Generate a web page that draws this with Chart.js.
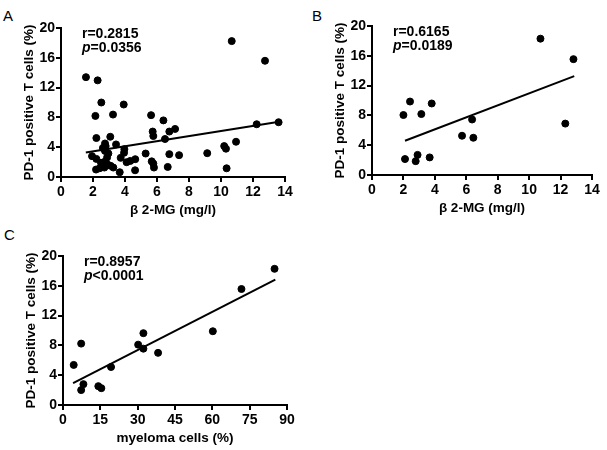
<!DOCTYPE html>
<html>
<head>
<meta charset="utf-8">
<script src="https://cdn.jsdelivr.net/npm/chart.js@4.4.0/dist/chart.umd.min.js"></script>
<style>
  body { margin: 0; background: #fff; }
  #wrap { position: relative; width: 607px; height: 450px; font-family: 'Liberation Sans', Arial, sans-serif; }
  canvas { position: absolute; }
  .letter { position: absolute; font-size: 15px; color: #000; line-height: 1; }
</style>
</head>
<body>
<div id="wrap">
  <div class="letter" style="left:3px; top:8px;">A</div>
  <div class="letter" style="left:312px; top:8px;">B</div>
  <div class="letter" style="left:4px; top:227px;">C</div>
  <canvas id="chartA" width="300" height="225" style="left:0; top:0;"></canvas>
  <canvas id="chartB" width="296" height="225" style="left:311px; top:-2px;"></canvas>
  <canvas id="chartC" width="300" height="225" style="left:2px; top:228px;"></canvas>
</div>
<script>
// Panel A: all patients, beta2-MG vs PD-1+ T cells
const b2mgA = [1.56, 2.29, 2.52, 3.92, 2.15, 3.25, 2.21, 3.08, 2.75, 2.79, 3.44, 3.96, 3.94,
               1.94, 2.21, 2.19, 2.42, 2.60, 2.71, 2.88, 2.96, 2.75, 2.71, 2.89, 3.27, 3.67,
               3.73, 4.10, 4.33, 4.64, 4.63, 2.50, 2.62, 3.10,
               5.63, 6.40, 5.73, 5.77, 6.77, 7.13, 6.50, 5.29, 5.67, 5.77, 5.81, 6.77, 7.38,
               6.67, 9.14, 10.20, 10.31, 10.94, 10.35, 12.23, 13.60, 10.67, 12.75];
const pd1A = [13.4, 12.97, 10.0, 9.73, 8.2, 8.38, 5.23, 5.4, 4.5, 4.15, 4.37, 3.74, 3.25,
              2.8, 2.43, 1.0, 1.18, 1.54, 2.03, 2.62, 3.16, 3.5, 1.27, 1.72, 1.27, 0.64,
              2.57, 1.99, 2.16, 2.39, 0.9, 1.9, 3.9, 1.5,
              8.3, 7.6, 6.1, 5.5, 6.1, 6.45, 5.1, 3.15, 2.1, 1.8, 1.27, 3.07, 2.93,
              1.35, 3.2, 4.15, 3.8, 4.73, 1.17, 7.08, 7.35, 18.24, 15.6];
const fitAx = [1.55, 13.64];
const fitAy = [3.3, 7.43];

// Panel B: subgroup, beta2-MG vs PD-1+ T cells
const b2mgB = [2.0, 2.42, 3.14, 3.8, 2.1, 2.9, 2.78, 3.67, 5.73, 6.37, 6.45, 10.72, 12.82, 12.3];
const pd1B = [8.05, 9.86, 8.18, 9.6, 2.14, 2.7, 1.86, 2.36, 5.27, 7.45, 5.0, 18.3, 15.55, 6.9];
const fitBx = [2.1, 12.87];
const fitBy = [4.6, 13.27];

// Panel C: myeloma cells vs PD-1+ T cells
const myelomaC = [4.3, 7.3, 7.3, 8.2, 14.2, 15.4, 19.3, 30.2, 32.3, 32.3, 38.2, 60.2, 71.7, 85.0];
const pd1C = [5.38, 8.24, 2.0, 2.8, 2.53, 2.26, 5.1, 8.1, 9.64, 7.56, 7.0, 9.9, 15.57, 18.28];
const fitCx = [4.05, 85.3];
const fitCy = [2.94, 16.83];

const FONT = "'Liberation Sans', Arial, sans-serif";

function toPoints(xs, ys) {
    return xs.map((x, i) => ({ x: x, y: ys[i] }));
}

function makeChart(id, xs, ys, fx, fy, xMax, xStep, xTitle, rText, pText) {
    const ctx = document.getElementById(id).getContext('2d');

    // r / p annotation, p in italics
    const statsText = {
        id: 'statsText',
        afterDraw(chart) {
            const c = chart.ctx;
            const a = chart.chartArea;
            const x0 = a.left + 21;
            c.save();
            c.fillStyle = '#000';
            c.textBaseline = 'alphabetic';
            c.font = 'bold 14px ' + FONT;
            c.fillText(rText, x0, a.top + 10);
            c.font = 'italic bold 14px ' + FONT;
            c.fillText('p', x0, a.top + 24);
            const w = c.measureText('p').width;
            c.font = 'bold 14px ' + FONT;
            c.fillText(pText, x0 + w, a.top + 24);
            c.restore();
        }
    };

    const axisCommon = {
        type: 'linear',
        min: 0,
        grid: { drawOnChartArea: false, drawTicks: true, tickLength: 5, color: '#000', lineWidth: 2 },
        border: { display: true, color: '#000', width: 2 }
    };

    return new Chart(ctx, {
        type: 'scatter',
        data: {
            datasets: [
                {
                    data: toPoints(xs, ys),
                    backgroundColor: '#000',
                    borderColor: '#000',
                    pointRadius: 3.5,
                    pointHoverRadius: 3.5
                },
                {
                    type: 'line',
                    data: toPoints(fx, fy),
                    borderColor: '#000',
                    borderWidth: 2,
                    pointRadius: 0,
                    fill: false
                }
            ]
        },
        plugins: [statsText],
        options: {
            responsive: false,
            animation: false,
            layout: { padding: { top: 28, right: 15, left: 0, bottom: 0 } },
            plugins: { legend: { display: false }, tooltip: { enabled: false } },
            scales: {
                x: Object.assign({}, axisCommon, {
                    max: xMax,
                    ticks: { stepSize: xStep, color: '#000', padding: 2, font: { family: FONT, size: 14, weight: 'bold' } },
                    title: { display: true, text: xTitle, color: '#000', padding: { top: 0, bottom: 7 },
                             font: { family: FONT, size: 13.5, weight: 'bold' } },
                    afterFit: (s) => { s.height = 48; }
                }),
                y: Object.assign({}, axisCommon, {
                    max: 20,
                    ticks: { stepSize: 4, color: '#000', padding: 1, font: { family: FONT, size: 14, weight: 'bold' } },
                    title: { display: true, text: 'PD-1 positive T cells (%)', color: '#000', padding: { top: 21, bottom: 0 },
                             font: { family: FONT, size: 13.5, weight: 'bold' } },
                    afterFit: (s) => { s.width = 61; }
                })
            }
        }
    });
}

document.addEventListener('DOMContentLoaded', function () {
    makeChart('chartA', b2mgA, pd1A, fitAx, fitAy, 14, 2, 'β 2-MG (mg/l)', 'r=0.2815', '=0.0356');
    makeChart('chartB', b2mgB, pd1B, fitBx, fitBy, 14, 2, 'β 2-MG (mg/l)', 'r=0.6165', '=0.0189');
    makeChart('chartC', myelomaC, pd1C, fitCx, fitCy, 90, 15, 'myeloma cells (%)', 'r=0.8957', '<0.0001');
});
</script>
</body>
</html>
